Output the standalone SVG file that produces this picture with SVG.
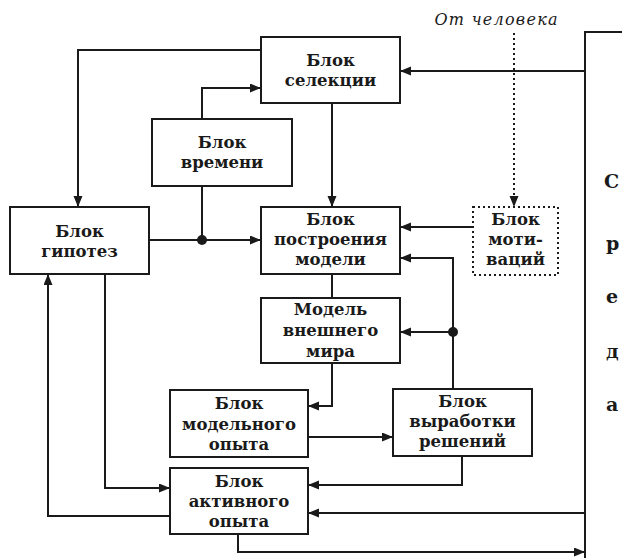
<svg xmlns="http://www.w3.org/2000/svg" width="622" height="558" viewBox="0 0 622 558">
  <style>
    .box { fill: #fff; stroke: #1a1a1a; stroke-width: 2; }
    .dotbox { fill: #fff; stroke: #1a1a1a; stroke-width: 2; stroke-dasharray: 2 3; }
    .lbl { font-family: "DejaVu Serif", "Liberation Serif", serif; font-weight: bold; font-size: 16.5px; fill: #1a1a1a; text-anchor: middle; }
    .wire { fill: none; stroke: #1a1a1a; stroke-width: 2; }
    .dotted { fill: none; stroke: #1a1a1a; stroke-width: 2; stroke-dasharray: 2 3; }
    .arr { marker-end: url(#ah); }
    .side { font-family: "DejaVu Serif", "Liberation Serif", serif; font-weight: bold; font-size: 19px; fill: #1a1a1a; }
    .note { font-family: "DejaVu Serif", "Liberation Serif", serif; font-style: italic; font-size: 16px; fill: #1a1a1a; }
  </style>
  <defs>
    <marker id="ah" markerUnits="userSpaceOnUse" markerWidth="12" markerHeight="10" refX="11" refY="4.5" orient="auto">
      <path d="M0,0 L11,4.5 L0,9 z" fill="#1a1a1a"/>
    </marker>
  </defs>

  <rect width="622" height="558" fill="#fff"/>

  <!-- outer frame on the right -->
  <g id="frame">
    <path class="wire" d="M622,32 H585 V558"/>
    <text class="side" x="604" y="188">С</text>
    <text class="side" x="606" y="250">р</text>
    <text class="side" x="606" y="303">е</text>
    <text class="side" x="606" y="358">д</text>
    <text class="side" x="606" y="411">а</text>
  </g>

  <text class="note" x="496" y="25" text-anchor="middle" textLength="123" lengthAdjust="spacing">От человека</text>

  <g id="connectors">
    <path class="wire arr" d="M261,50 H78 V207"/>
    <path class="wire arr" d="M202,119 V88 H261"/>
    <path class="wire arr" d="M149,240 H261"/>
    <path class="wire" d="M202,186 V240"/>
    <circle cx="202" cy="240" r="5" fill="#1a1a1a"/>
    <path class="wire arr" d="M332,103 V207"/>
    <path class="wire arr" d="M585,71 H400"/>
    <path class="dotted arr" d="M514,33 V207"/>
    <path class="wire arr" d="M473,227 H400"/>
    <path class="wire arr" d="M453,389 V258 H400"/>
    <path class="wire arr" d="M453,332 H400"/>
    <circle cx="453" cy="332" r="5" fill="#1a1a1a"/>
    <path class="wire" d="M332,274 V298"/>
    <path class="wire arr" d="M332,363 V406 H308"/>
    <path class="wire arr" d="M308,437 H393"/>
    <path class="wire arr" d="M462,456 V485 H308"/>
    <path class="wire arr" d="M585,513 H308"/>
    <path class="wire arr" d="M238,534 V552 H585"/>
    <path class="wire arr" d="M105,274 V488 H170"/>
    <path class="wire arr" d="M170,516 H48 V274"/>
  </g>

  <g id="selection">
    <rect class="box" x="261" y="37" width="139" height="66"/>
    <text class="lbl" x="330.5" y="66">Блок</text>
    <text class="lbl" x="330.5" y="86">селекции</text>
  </g>

  <g id="time">
    <rect class="box" x="152" y="119" width="140" height="67"/>
    <text class="lbl" x="222" y="148">Блок</text>
    <text class="lbl" x="222" y="168">времени</text>
  </g>

  <g id="hypotheses">
    <rect class="box" x="10" y="207" width="139" height="67"/>
    <text class="lbl" x="79.5" y="237">Блок</text>
    <text class="lbl" x="79.5" y="257">гипотез</text>
  </g>

  <g id="model-building">
    <rect class="box" x="261" y="207" width="139" height="67"/>
    <text class="lbl" x="330.5" y="225">Блок</text>
    <text class="lbl" x="330.5" y="245">построения</text>
    <text class="lbl" x="330.5" y="265">модели</text>
  </g>

  <g id="motivation">
    <rect class="dotbox" x="473" y="207" width="85" height="68"/>
    <text class="lbl" x="515.5" y="225">Блок</text>
    <text class="lbl" x="515.5" y="245">моти-</text>
    <text class="lbl" x="515.5" y="265">ваций</text>
  </g>

  <g id="world-model">
    <rect class="box" x="261" y="298" width="139" height="65"/>
    <text class="lbl" x="330.5" y="315">Модель</text>
    <text class="lbl" x="330.5" y="336">внешнего</text>
    <text class="lbl" x="330.5" y="357">мира</text>
  </g>

  <g id="model-experience">
    <rect class="box" x="170" y="390" width="138" height="67"/>
    <text class="lbl" x="239" y="409">Блок</text>
    <text class="lbl" x="239" y="430">модельного</text>
    <text class="lbl" x="239" y="450">опыта</text>
  </g>

  <g id="decisions">
    <rect class="box" x="393" y="389" width="139" height="67"/>
    <text class="lbl" x="462.5" y="407">Блок</text>
    <text class="lbl" x="462.5" y="427">выработки</text>
    <text class="lbl" x="462.5" y="447">решений</text>
  </g>

  <g id="active-experience">
    <rect class="box" x="170" y="468" width="138" height="66"/>
    <text class="lbl" x="239" y="487">Блок</text>
    <text class="lbl" x="239" y="507">активного</text>
    <text class="lbl" x="239" y="527">опыта</text>
  </g>
</svg>
